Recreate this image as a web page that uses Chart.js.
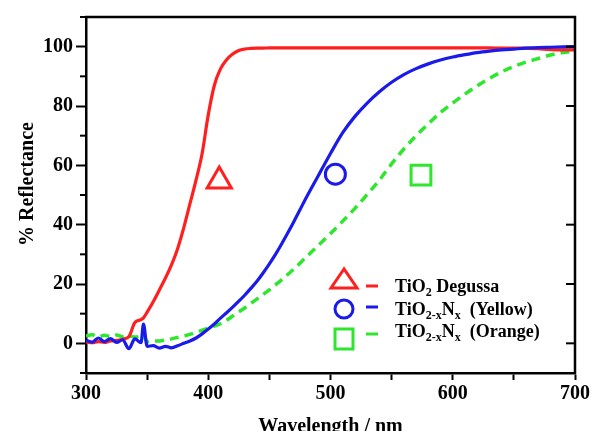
<!DOCTYPE html>
<html>
<head>
<meta charset="utf-8">
<script src="https://cdn.jsdelivr.net/npm/chart.js@4.4.0/dist/chart.umd.min.js"></script>
<style>
html, body { margin: 0; padding: 0; background: #fff; }
#wrap { position: relative; width: 592px; height: 431px; }
</style>
</head>
<body>
<div id="wrap"><canvas id="myChart"></canvas></div>
<script>
const wavelengths = [300, 305, 310, 315, 320, 325, 330, 335, 340, 345, 347,
    350, 355, 360, 365, 370, 375, 380, 385, 390, 395, 400, 405, 410, 415, 420, 425,
    430, 435, 440, 445, 450, 455, 460, 465, 470, 475, 480, 485, 490, 495, 500,
    510, 520, 530, 540, 550, 560, 570, 580, 590, 600, 610, 620, 630, 640, 650,
    660, 670, 680, 690, 700];

const degussa = [0.5, 0.2, 0.6, 0.3, 0.8, 1.0, 1.4, 2.2, 7.0, 8.0, 8.6,
    10.5, 14, 18, 22, 26.5, 32, 39, 47, 55, 64, 77, 87, 92.5, 95.6, 97.5, 98.7,
    99.2, 99.4, 99.5, 99.5, 99.6, 99.6, 99.6, 99.6, 99.6, 99.6, 99.6, 99.6, 99.6, 99.6, 99.6,
    99.6, 99.6, 99.6, 99.6, 99.6, 99.6, 99.6, 99.6, 99.6, 99.6, 99.6, 99.6, 99.6, 99.5, 99.5,
    99.5, 99.3, 99.0, 98.9, 98.9];

const yellow = [1.0, 0.4, 1.8, 0.6, 1.6, 0.3, 1.2, -1.8, 1.5, 0.2, 6.5,
    -1.0, -0.8, -1.6, -1.0, -1.5, -0.8, 0, 0.8, 1.8, 3.2, 4.8, 6.5, 8.5, 10.3, 12.2, 14.2,
    16.3, 18.6, 21, 23.8, 26.8, 30, 33.5, 37.2, 41, 45, 49, 52.8, 56.5, 60.3, 64,
    71, 76.5, 81, 84.8, 88, 90.6, 92.6, 94.2, 95.5, 96.5, 97.3, 98, 98.5, 98.9, 99.2,
    99.5, 99.7, 99.8, 99.9, 100];

const orange = [2.5, 2.9, 2.2, 2.7, 2.3, 2.8, 2.2, 2.6, 2.1, 2.5, 2.8,
    0.5, 0.8, 0.8, 1.2, 1.5, 2.0, 2.5, 3.0, 3.7, 4.4, 5.1, 5.8, 6.6, 7.8, 9.2, 10.6,
    12.0, 13.5, 15.0, 16.5, 18.0, 19.7, 21.4, 23.2, 25.0, 27.0, 29.0, 31.0, 33.0, 35.0, 37.0,
    41.2, 45.5, 50.2, 55, 60.5, 65.5, 70, 74, 77.8, 81, 84, 86.8, 89.3, 91.5, 93.3,
    94.8, 96, 97.2, 98, 98.5];

// symbols placed next to each curve
const markerWavelength = [409, 504, 574];
const markerReflectance = [54.7, 57, 56.7];

const RED = '#ff1f1f';
const BLUE = '#1a1aeb';
const GREEN = '#2ee62e';
const FONT = '"Liberation Serif", "Times New Roman", serif';

const toXY = (ys) => wavelengths.map((w, i) => ({x: w, y: ys[i]}));

const legendRows = [
    {color: RED, marker: 'triangle', parts: [['TiO', 0], ['2', 1], [' Degussa', 0]]},
    {color: BLUE, marker: 'circle', parts: [['TiO', 0], ['2-x', 1], ['N', 0], ['x', 1], ['  (Yellow)', 0]]},
    {color: GREEN, marker: 'rect', parts: [['TiO', 0], ['2-x', 1], ['N', 0], ['x', 1], ['  (Orange)', 0]]}
];

const framePlugin = {
    id: 'framePlugin',
    afterDraw(chart) {
        const {ctx, chartArea: a, scales: {y}} = chart;
        ctx.save();
        ctx.strokeStyle = '#000';
        ctx.lineWidth = 2.5;
        ctx.beginPath();
        ctx.moveTo(a.left - 1, a.top);
        ctx.lineTo(a.right, a.top);
        ctx.lineTo(a.right, a.bottom + 1);
        ctx.stroke();

        // minor ticks left, major ticks inward on the right
        ctx.lineWidth = 2;
        y.ticks.forEach(t => {
            const py = y.getPixelForValue(t.value);
            ctx.beginPath();
            if (t.value % 20 !== 0) {
                ctx.moveTo(a.left - 6, py);
                ctx.lineTo(a.left, py);
            } else {
                ctx.moveTo(a.right - 9, py);
                ctx.lineTo(a.right, py);
            }
            ctx.stroke();
        });

        // y title
        ctx.fillStyle = '#000';
        ctx.font = 'bold 20px ' + FONT;
        ctx.textAlign = 'center';
        ctx.textBaseline = 'middle';
        ctx.translate(28, 184);
        ctx.rotate(-Math.PI / 2);
        ctx.fillText('% Reflectance', 0, 0);
        ctx.restore();

        // legend
        ctx.save();
        const lx = a.left + 258;
        const rowsY = [a.top + 261, a.top + 292, a.top + 321];
        ctx.lineWidth = 3;
        legendRows.forEach((row, i) => {
            const cy = rowsY[i];
            ctx.strokeStyle = row.color;
            ctx.beginPath();
            if (row.marker === 'triangle') {
                ctx.moveTo(lx, cy - 9);
                ctx.lineTo(lx - 13, cy + 10);
                ctx.lineTo(lx + 13, cy + 10);
                ctx.closePath();
            } else if (row.marker === 'circle') {
                ctx.arc(lx, cy, 9, 0, Math.PI * 2);
            } else {
                ctx.rect(lx - 9, cy - 9, 18, 20);
            }
            ctx.stroke();
            ctx.beginPath();
            const dy = i === 0 ? cy + 8 : (i === 1 ? cy - 2 : cy - 4);
            ctx.moveTo(lx + 22, dy);
            ctx.lineTo(lx + 34, dy);
            ctx.stroke();

            let tx = lx + 51;
            const base = [a.top + 275, a.top + 298, a.top + 320][i];
            ctx.fillStyle = '#000';
            ctx.textBaseline = 'alphabetic';
            ctx.textAlign = 'left';
            row.parts.forEach(([txt, sub]) => {
                ctx.font = sub ? 'bold 12px ' + FONT : 'bold 18px ' + FONT;
                ctx.fillText(txt, tx, sub ? base + 4 : base);
                tx += ctx.measureText(txt).width;
            });
        });
        ctx.restore();
    }
};

const ctx = document.getElementById('myChart').getContext('2d');

const myChart = new Chart(ctx, {
    type: 'line',
    data: {
        datasets: [
            {
                type: 'scatter',
                data: [{x: markerWavelength[0], y: markerReflectance[0]}],
                pointStyle: 'triangle',
                pointRadius: 14,
                pointBorderWidth: 3,
                pointBorderColor: RED,
                pointBackgroundColor: 'rgba(0,0,0,0)'
            },
            {
                type: 'scatter',
                data: [{x: markerWavelength[1], y: markerReflectance[1]}],
                pointStyle: 'circle',
                pointRadius: 10,
                pointBorderWidth: 3,
                pointBorderColor: BLUE,
                pointBackgroundColor: 'rgba(0,0,0,0)'
            },
            {
                type: 'scatter',
                data: [{x: markerWavelength[2], y: markerReflectance[2]}],
                pointStyle: 'rect',
                pointRadius: 14,
                pointBorderWidth: 3,
                pointBorderColor: GREEN,
                pointBackgroundColor: 'rgba(0,0,0,0)'
            },
            {
                label: 'TiO2-xNx (Yellow)',
                data: toXY(yellow),
                borderColor: BLUE,
                borderWidth: 3.2,
                pointRadius: 0,
                cubicInterpolationMode: 'monotone'
            },
            {
                label: 'TiO2 Degussa',
                data: toXY(degussa),
                borderColor: RED,
                borderWidth: 3.2,
                pointRadius: 0,
                cubicInterpolationMode: 'monotone'
            },
            {
                label: 'TiO2-xNx (Orange)',
                data: toXY(orange),
                borderColor: GREEN,
                borderWidth: 3.5,
                borderDash: [9, 6],
                pointRadius: 0,
                cubicInterpolationMode: 'monotone'
            }
        ]
    },
    options: {
        responsive: true,
        maintainAspectRatio: false,
        animation: false,
        layout: {
            padding: {top: 13, right: 17, left: 0, bottom: 0}
        },
        plugins: {
            legend: {display: false},
            tooltip: {enabled: false}
        },
        scales: {
            x: {
                type: 'linear',
                min: 300,
                max: 700,
                afterFit: (s) => { s.height = 58; },
                border: {color: '#000', width: 2.5},
                grid: {
                    drawOnChartArea: false,
                    drawTicks: true,
                    tickLength: 7,
                    tickWidth: 2,
                    tickColor: '#000'
                },
                ticks: {
                    stepSize: 50,
                    autoSkip: false,
                    maxRotation: 0,
                    padding: 2,
                    color: '#000',
                    font: {family: FONT, size: 20, weight: 'bold'},
                    callback: (v) => v % 100 === 0 ? v : ''
                },
                title: {
                    display: true,
                    text: 'Wavelength / nm',
                    color: '#000',
                    font: {family: FONT, size: 20, weight: 'bold', lineHeight: 1},
                    padding: {top: 0, bottom: -6}
                }
            },
            y: {
                min: -10,
                max: 110,
                afterFit: (s) => { s.width = 86; },
                border: {color: '#000', width: 2.5},
                grid: {
                    drawOnChartArea: false,
                    drawTicks: true,
                    tickLength: 10,
                    tickWidth: 2,
                    tickColor: (c) => (c.tick && c.tick.value % 20 === 0) ? '#000' : 'rgba(0,0,0,0)'
                },
                ticks: {
                    stepSize: 10,
                    autoSkip: false,
                    padding: 3,
                    color: '#000',
                    font: {family: FONT, size: 20, weight: 'bold'},
                    callback: (v) => (v % 20 === 0) ? v : ''
                }
            }
        }
    },
    plugins: [framePlugin]
});
</script>
</body>
</html>
